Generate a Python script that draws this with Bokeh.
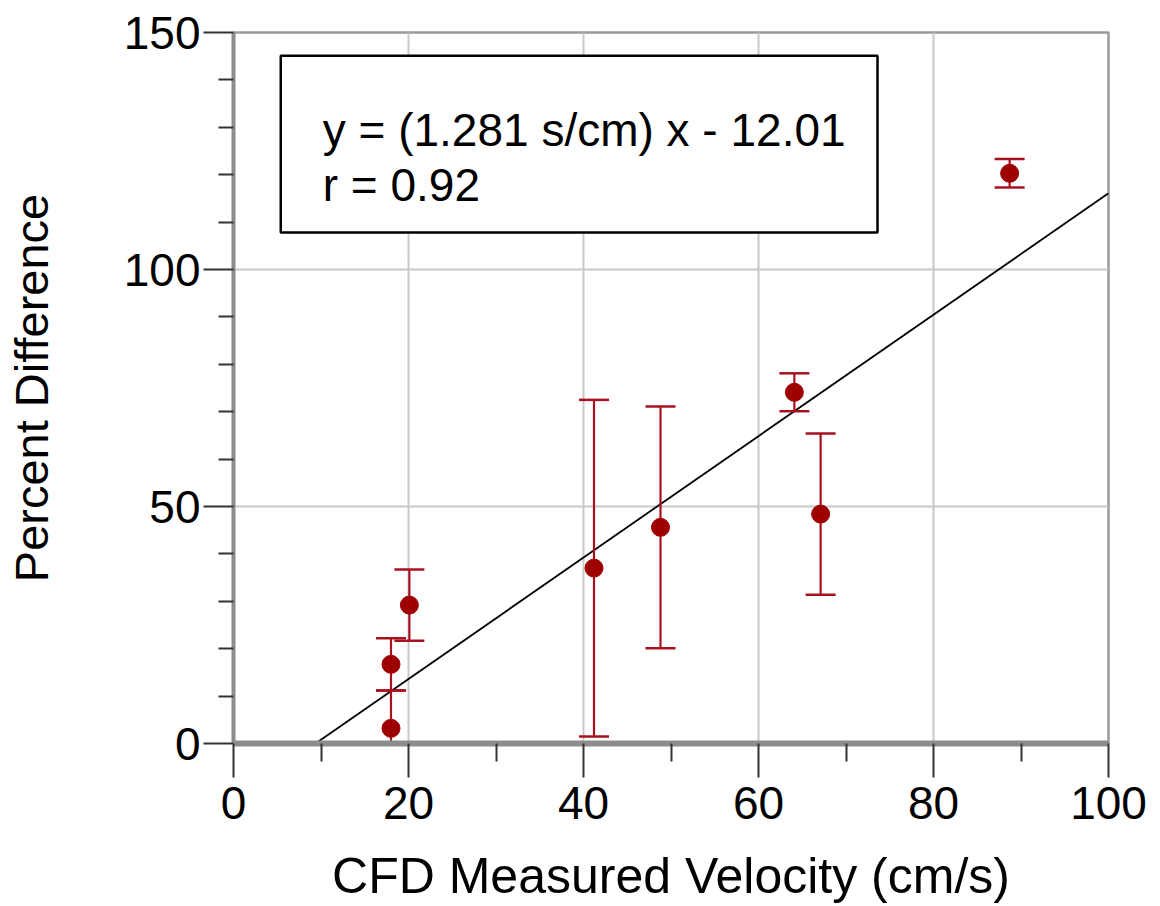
from bokeh.plotting import figure
from bokeh.models import Range1d, ColumnDataSource, Label, BoxAnnotation, FixedTicker
from bokeh.embed import file_html
from bokeh.resources import INLINE

# ---- data ----
velocity = [18.0, 18.0, 20.1, 41.2, 48.8, 64.1, 67.1, 88.7]
pct_diff = [3.2, 16.7, 29.2, 37.0, 45.6, 74.1, 48.4, 120.3]
pct_err = [8.0, 5.5, 7.5, 35.5, 25.5, 4.0, 17.0, 3.0]

fit_slope = 1.281
fit_intercept = -12.01
fit_x = [8.5, 100.0]

x_major = [0, 20, 40, 60, 80, 100]
x_minor = [10, 30, 50, 70, 90]
y_major = [0, 50, 100, 150]
y_minor = [10, 20, 30, 40, 60, 70, 80, 90, 110, 120, 130, 140]

eq_text = "y = (1.281 s/cm) x - 12.01"
r_text = "r = 0.92"
x_title = "CFD Measured Velocity (cm/s)"
y_title = "Percent Difference"

FONT = "Liberation Sans"
RED = "#9e0000"
BAR = "#a81020"

src = ColumnDataSource(dict(
    x=velocity, y=pct_diff,
    upper=[v + e for v, e in zip(pct_diff, pct_err)],
    lower=[v - e for v, e in zip(pct_diff, pct_err)],
))
fit_src = ColumnDataSource(dict(x=fit_x, y=[fit_slope * v + fit_intercept for v in fit_x]))

p = figure(width=1150, height=906, x_range=Range1d(0, 100), y_range=Range1d(0, 150),
           output_backend="svg", toolbar_location=None,
           min_border_left=233, min_border_right=42, min_border_top=32, min_border_bottom=163)
p.background_fill_color = "white"
p.border_fill_color = "white"
p.outline_line_color = "#9a9a9a"
p.outline_line_width = 2.5

# grid
p.xgrid.grid_line_color = "#c8c8c8"
p.ygrid.grid_line_color = "#c8c8c8"
p.xgrid.grid_line_width = 2
p.ygrid.grid_line_width = 2

# axes
p.xaxis.ticker = FixedTicker(ticks=x_major, minor_ticks=x_minor)
p.yaxis.ticker = FixedTicker(ticks=y_major, minor_ticks=y_minor)
for ax in (p.xaxis, p.yaxis):
    ax.axis_line_color = "#8c8c8c"
    ax.major_tick_line_color = "#333333"
    ax.minor_tick_line_color = "#333333"
    ax.major_tick_line_width = 2
    ax.minor_tick_line_width = 2
    ax.major_tick_in = 0
    ax.minor_tick_in = 0
    ax.major_label_text_font = FONT
    ax.major_label_text_font_size = "46px"
    ax.major_label_text_color = "black"
    ax.axis_label_text_font = FONT
    ax.axis_label_text_font_style = "normal"
    ax.axis_label_text_color = "black"

p.xaxis.axis_line_width = 6
p.xaxis.major_tick_out = 34
p.xaxis.minor_tick_out = 18
p.xaxis.major_label_standoff = 9
p.xaxis.axis_label = x_title
p.xaxis.axis_label_text_font_size = "50px"
p.xaxis.axis_label_standoff = 26

p.yaxis.axis_line_width = 4
p.yaxis.major_tick_out = 30
p.yaxis.minor_tick_out = 15
p.yaxis.major_label_standoff = 3
p.yaxis.axis_label = y_title
p.yaxis.axis_label_text_font_size = "47px"
p.yaxis.axis_label_standoff = 63

# regression line
p.line("x", "y", source=fit_src, line_color="black", line_width=1.8)

# error bars
p.segment(x0="x", y0="lower", x1="x", y1="upper", source=src, line_color=BAR, line_width=2.2)
p.scatter("x", "upper", source=src, marker="dash", size=30, line_color=BAR, line_width=2.5)
p.scatter("x", "lower", source=src, marker="dash", size=30, line_color=BAR, line_width=2.5)

# points
p.scatter("x", "y", source=src, marker="circle", size=18, fill_color=RED, line_color=RED)

# annotation box
box = BoxAnnotation(left=5.4, right=73.6, bottom=107.8, top=145.1,
                    fill_color="white", fill_alpha=1.0, line_color="black",
                    line_width=2.5, line_alpha=1.0)
p.add_layout(box)
p.add_layout(Label(x=10.2, y=129.5, text=eq_text, text_font=FONT, text_font_size="46px",
                   text_baseline="alphabetic", text_color="black"))
p.add_layout(Label(x=10.2, y=117.9, text=r_text, text_font=FONT, text_font_size="46px",
                   text_baseline="alphabetic", text_color="black"))

open("out.html", "w").write(file_html(p, INLINE))
